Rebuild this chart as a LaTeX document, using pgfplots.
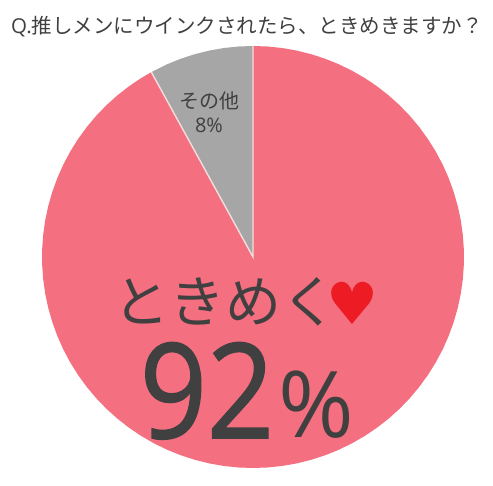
\documentclass[border=0pt]{standalone}
\usepackage{pgfplots}
\pgfplotsset{compat=1.18}
\usepackage{fontspec}
\setmainfont{Open Sans}
\newfontfamily\jp{Noto Sans CJK JP}
\newfontfamily\sym{DejaVu Sans}
\newfontfamily\bignum[FakeBold=1.2,FakeStretch=0.89]{Open Sans}
\definecolor{pinkc}{HTML}{F46F80}
\definecolor{grayc}{HTML}{A6A6A6}
\definecolor{txt}{HTML}{404040}
\definecolor{heart}{HTML}{ED1C24}
\definecolor{sep}{HTML}{F3DEDE}
\begin{document}
\begin{tikzpicture}
\begin{axis}[scale only axis,width=493pt,height=485pt,
  xmin=-253,xmax=240,ymin=-228,ymax=257,
  hide axis,clip=false]
\path (axis cs:-253,-228) rectangle (axis cs:240,257);
% pink slice: 92 %
\addplot[fill=pinkc,draw=none,data cs=polar] coordinates {
(0,0)(90,211)(86,211)(82,211)(78,211)(74,211)(70,211)(66,211)(62,211)(58,211)(54,211)(50,211)(46,211)(42,211)(38,211)(34,211)(30,211)(26,211)(22,211)(18,211)(14,211)(10,211)(6,211)(2,211)
(-2,211)(-6,211)(-10,211)(-14,211)(-18,211)(-22,211)(-26,211)(-30,211)(-34,211)(-38,211)(-42,211)(-46,211)(-50,211)(-54,211)(-58,211)(-62,211)(-66,211)(-70,211)(-74,211)(-78,211)(-82,211)(-86,211)(-90,211)
(-94,211)(-98,211)(-102,211)(-106,211)(-110,211)(-114,211)(-118,211)(-122,211)(-126,211)(-130,211)(-134,211)(-138,211)(-142,211)(-146,211)(-150,211)(-154,211)(-158,211)(-162,211)(-166,211)(-170,211)(-174,211)(-178,211)
(-182,211)(-186,211)(-190,211)(-194,211)(-198,211)(-202,211)(-206,211)(-210,211)(-214,211)(-218,211)(-222,211)(-226,211)(-230,211)(-234,211)(-238,211)(-241.2,211)(0,0)} \closedcycle;
% grey slice: 8 %
\addplot[fill=grayc,draw=none,data cs=polar] coordinates {
(0,0)(90,211)(94,211)(98,211)(102,211)(106,211)(110,211)(114,211)(118.8,211)(0,0)} \closedcycle;
% separators
\addplot[sep,line width=1.4pt,data cs=polar] coordinates {(90,211)(0,0)(118.8,211)};
\node[text=txt,font=\fontsize{20.5}{24}\selectfont,inner sep=0pt] at (axis cs:-6,230) {Q.{\jp 推しメンにウインクされたら、ときめきますか？}};
\node[text=txt,font=\fontsize{20}{24}\jp,inner sep=0pt] at (axis cs:-44,156) {その他};
\node[text=txt,font=\fontsize{20}{24}\selectfont,inner sep=0pt] at (axis cs:-44,132) {8\%};
\node[text=txt,font=\fontsize{56}{60}\jp,inner sep=0pt] at (axis cs:-28,-45) {ときめく};
\node[text=heart,font=\fontsize{58}{60}\sym,inner sep=0pt] at (axis cs:99,-46) {♥};
\node[text=txt,font=\fontsize{132}{140}\bignum,inner sep=0pt,anchor=base] at (axis cs:-46,-181) {92};
\node[text=txt,font=\fontsize{92}{96}\selectfont,inner sep=0pt,anchor=base] at (axis cs:63,-181) {\%};
\end{axis}
\end{tikzpicture}
\end{document}
